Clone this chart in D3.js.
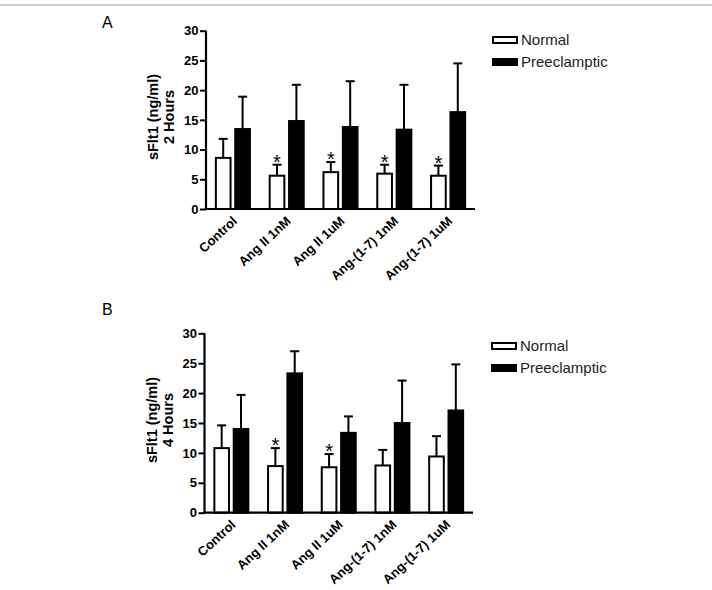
<!DOCTYPE html>
<html><head><meta charset="utf-8">
<script src="https://cdn.jsdelivr.net/npm/d3@7/dist/d3.min.js"></script>
<style>body{margin:0;background:#fff;font-family:"Liberation Sans",Arial,sans-serif}</style>
</head><body><svg id="c" width="712" height="590"></svg>
<script>
const categories = ["Control","Ang II 1nM","Ang II 1uM","Ang-(1-7) 1nM","Ang-(1-7) 1uM"];
const seriesNames = ["Normal","Preeclamptic"];
const yTicks = [0,5,10,15,20,25,30];
// Panel A: 2 Hours
const normalA = [8.6,5.6,6.2,5.95,5.6];
const normalA_err = [11.8,7.45,7.9,7.45,7.3];
const preA = [13.45,14.8,13.8,13.35,16.3];
const preA_err = [18.9,20.9,21.5,20.9,24.5];
const starsA = [false,true,true,true,true];
// Panel B: 4 Hours
const normalB = [10.8,7.8,7.6,7.9,9.4];
const normalB_err = [14.6,10.8,9.8,10.5,12.8];
const preB = [14.0,23.3,13.35,15.0,17.1];
const preB_err = [19.7,27.0,16.1,22.1,24.8];
const starsB = [false,true,true,false,false];

const svg = d3.select("#c");
svg.append("rect").attr("x",0).attr("y",4).attr("width",712).attr("height",2).attr("fill","#cfcfcf");

function panel(cfg){
  const g = svg.append("g");
  const x = d3.scaleBand().domain(categories).range([cfg.x0,cfg.x1]).paddingInner(0.33).paddingOuter(0.165);
  const xs = d3.scaleBand().domain(seriesNames).range([0,x.bandwidth()]).paddingInner(0.14);
  const y = d3.scaleLinear().domain([0,30]).range([cfg.y0,cfg.y1]);

  // y axis
  const ya = g.append("g").attr("transform",`translate(${cfg.x0},0)`)
    .call(d3.axisLeft(y).tickValues(yTicks).tickSize(6).tickPadding(1.5));
  ya.select(".domain").attr("stroke","#000").attr("stroke-width",2.2).attr("d",`M0,${cfg.y1}V${cfg.y0}`);
  ya.selectAll(".tick line").attr("stroke","#000").attr("stroke-width",2);
  ya.selectAll(".tick text").attr("font-family","Liberation Sans, Arial").attr("font-weight","bold")
    .attr("font-size",13).attr("fill","#000");

  const data = categories.map((c,i)=>({c,i}));
  const series = [
    {name:"Normal", v:cfg.normal, e:cfg.normalErr, fill:"#fff"},
    {name:"Preeclamptic", v:cfg.pre, e:cfg.preErr, fill:"#000"}
  ];
  series.forEach(s=>{
    const bx = d=> x(d.c)+xs(s.name);
    const w = xs.bandwidth();
    g.selectAll(null).data(data).enter().append("line")
      .attr("x1",d=>bx(d)+w/2).attr("x2",d=>bx(d)+w/2)
      .attr("y1",d=>y(s.v[d.i])).attr("y2",d=>y(s.e[d.i]))
      .attr("stroke","#000").attr("stroke-width",2);
    g.selectAll(null).data(data).enter().append("line")
      .attr("x1",d=>bx(d)+w/2-4.5).attr("x2",d=>bx(d)+w/2+4.5)
      .attr("y1",d=>y(s.e[d.i])).attr("y2",d=>y(s.e[d.i]))
      .attr("stroke","#000").attr("stroke-width",2);
    g.selectAll(null).data(data).enter().append("rect")
      .attr("x",d=>bx(d)+1).attr("width",w-2)
      .attr("y",d=>y(s.v[d.i])).attr("height",d=>cfg.y0-y(s.v[d.i]))
      .attr("fill",s.fill).attr("stroke","#000").attr("stroke-width",2);
  });
  // stars
  g.selectAll(null).data(data.filter(d=>cfg.stars[d.i])).enter().append("text")
    .attr("x",d=>x(d.c)+xs("Normal")+xs.bandwidth()/2)
    .attr("y",d=>y(cfg.normalErr[d.i])+4)
    .attr("text-anchor","middle").attr("font-size",20).attr("font-family","Liberation Sans, Arial")
    .text("*");

  // x axis
  const xa = g.append("g").attr("transform",`translate(0,${cfg.y0})`)
    .call(d3.axisBottom(x).tickSize(0).tickPadding(0));
  xa.select(".domain").attr("stroke","#000").attr("stroke-width",2.2).attr("d",`M${cfg.x0-1},0H${cfg.x1}`);
  xa.selectAll(".tick text").attr("font-family","Liberation Sans, Arial").attr("font-weight","bold")
    .attr("font-size",13).attr("fill","#000").attr("text-anchor","end")
    .attr("dy",0).attr("transform","translate(5,13) rotate(-43)");

  // y label
  const lab = g.append("text").attr("transform",`translate(${cfg.labX},${cfg.labY}) rotate(-90)`)
    .attr("text-anchor","middle").attr("font-family","Liberation Sans, Arial").attr("font-weight","bold").attr("font-size",14.5);
  lab.append("tspan").attr("x",0).attr("dy",0).text("sFlt1 (ng/ml)");
  lab.append("tspan").attr("x",0).attr("dy",15.5).text(cfg.hours);

  // panel letter
  svg.append("text").attr("x",cfg.letterX).attr("y",cfg.letterY).attr("font-family","Liberation Sans, Arial")
    .attr("font-size",16).text(cfg.letter);

  // legend
  const lg = svg.append("g").attr("transform",`translate(${cfg.legX},${cfg.legY})`);
  series.forEach((s,i)=>{
    lg.append("rect").attr("x",1).attr("y",i*22-3).attr("width",24).attr("height",6)
      .attr("fill",s.fill).attr("stroke","#000").attr("stroke-width",2);
    lg.append("text").attr("x",29).attr("y",i*22).attr("dy","0.35em").attr("font-family","Liberation Sans, Arial")
      .attr("font-size",15).attr("fill","#222").text(s.name);
  });
}

panel({x0:206,x1:475,y0:209,y1:30.7,normal:normalA,normalErr:normalA_err,pre:preA,preErr:preA_err,stars:starsA,
  hours:"2 Hours",labX:158,labY:117,letter:"A",letterX:102,letterY:28,legX:492,legY:40});
panel({x0:204.5,x1:473,y0:512.7,y1:333.3,normal:normalB,normalErr:normalB_err,pre:preB,preErr:preB_err,stars:starsB,
  hours:"4 Hours",labX:157,labY:420,letter:"B",letterX:102,letterY:315,legX:491,legY:346});
</script></body></html>
